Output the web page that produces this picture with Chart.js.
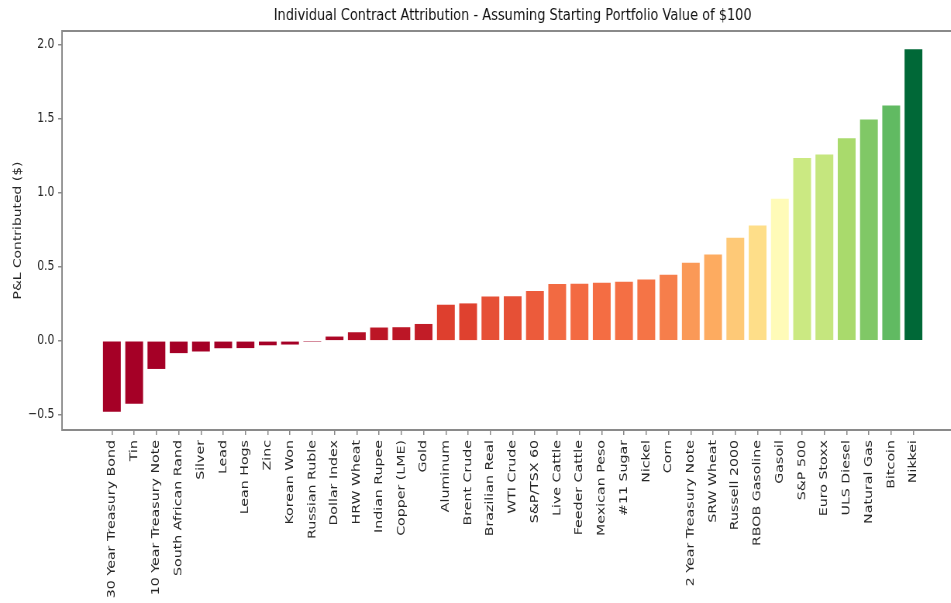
<!DOCTYPE html>
<html>
<head>
<meta charset="utf-8">
<title>Individual Contract Attribution</title>
<script src="https://cdn.jsdelivr.net/npm/chart.js@4.4.1/dist/chart.umd.min.js"></script>
<style>
  html, body { margin: 0; padding: 0; background: #fff; overflow: hidden; width: 951px; height: 603px; }
  /* the figure is drawn wide and squeezed horizontally into the window */
  #wrap { width: 1243px; height: 603px; transform: scaleX(0.775); transform-origin: 0 0; }
  canvas { display: block; }
</style>
</head>
<body>
<div id="wrap"><canvas id="chart" width="1243" height="603"></canvas></div>
<script>
// Contracts, sorted by P&L contribution
const categories = [
  "30 Year Treasury Bond", "Tin", "10 Year Treasury Note", "South African Rand", "Silver",
  "Lead", "Lean Hogs", "Zinc", "Korean Won", "Russian Ruble", "Dollar Index", "HRW Wheat",
  "Indian Rupee", "Copper (LME)", "Gold", "Aluminum", "Brent Crude", "Brazilian Real",
  "WTI Crude", "S&P/TSX 60", "Live Cattle", "Feeder Cattle", "Mexican Peso", "#11 Sugar",
  "Nickel", "Corn", "2 Year Treasury Note", "SRW Wheat", "Russell 2000", "RBOB Gasoline",
  "Gasoil", "S&P 500", "Euro Stoxx", "ULS Diesel", "Natural Gas", "Bitcoin", "Nikkei"
];

// P&L contributed ($) per contract, starting portfolio of $100
const pnl = [
  -0.480, -0.425, -0.190, -0.083, -0.072,
  -0.050, -0.049, -0.030, -0.025, -0.002, 0.029, 0.058,
  0.090, 0.092, 0.114, 0.244, 0.253, 0.300,
  0.302, 0.337, 0.384, 0.385, 0.393, 0.400,
  0.414, 0.447, 0.527, 0.583, 0.696, 0.780,
  0.960, 1.236, 1.259, 1.369, 1.496, 1.591, 1.971
];

const yTickValues = [-0.5, 0.0, 0.5, 1.0, 1.5, 2.0];

const titleText = "Individual Contract Attribution - Assuming Starting Portfolio Value of $100";
const yAxisTitle = "P&L Contributed ($)";

// RdYlGn colour ramp
const rdYlGn = ["#a50026", "#d73027", "#f46d43", "#fdae61", "#fee08b", "#ffffbf",
                "#d9ef8b", "#a6d96a", "#66bd63", "#1a9850", "#006837"];

function hexToRgb(h) {
  return [parseInt(h.slice(1, 3), 16), parseInt(h.slice(3, 5), 16), parseInt(h.slice(5, 7), 16)];
}
function rampColor(t) {
  t = Math.min(Math.max(t, 0), 1);
  const pos = t * (rdYlGn.length - 1);
  const i = Math.min(Math.floor(pos), rdYlGn.length - 2);
  const f = pos - i;
  const a = hexToRgb(rdYlGn[i]), b = hexToRgb(rdYlGn[i + 1]);
  const c = a.map((v, k) => Math.round(v + (b[k] - v) * f));
  return `rgb(${c[0]},${c[1]},${c[2]})`;
}

// colour each bar by its value, 0 .. max (losses clip to the red end)
const vMax = Math.max(...pnl);
const barColors = pnl.map(v => rampColor(v / vMax));

// axis ranges with a 5% margin around the data
const yLo = Math.min(...pnl), yHi = Math.max(...pnl);
const yPad = 0.05 * (yHi - yLo);
const xPad = 0.05 * ((categories.length - 1) + 0.8);

const axisColor = "#8a8a8a";
const textColor = "#262626";
const fontFamily = "'DejaVu Sans', 'Liberation Sans', sans-serif";

// top edge of the plot frame, and the frame running on to the canvas edge
const frameEdges = {
  id: "frameEdges",
  afterDraw(chart) {
    const { ctx, chartArea, width } = chart;
    ctx.save();
    ctx.strokeStyle = axisColor;
    ctx.lineWidth = 2;
    ctx.beginPath();
    ctx.moveTo(chartArea.left, chartArea.top);
    ctx.lineTo(width, chartArea.top);
    ctx.moveTo(chartArea.right - 1, chartArea.bottom);
    ctx.lineTo(width, chartArea.bottom);
    ctx.stroke();
    ctx.restore();
  }
};

new Chart(document.getElementById("chart"), {
  type: "bar",
  data: {
    datasets: [{
      data: pnl.map((v, i) => ({ x: i, y: v })),
      backgroundColor: barColors,
      borderWidth: 0,
      categoryPercentage: 1.0,
      barPercentage: 0.8
    }]
  },
  options: {
    responsive: false,
    animation: false,
    devicePixelRatio: 1,
    layout: { padding: 0 },
    plugins: {
      legend: { display: false },
      tooltip: { enabled: false },
      title: {
        display: true,
        text: titleText,
        fullSize: false,
        color: "#111",
        font: { family: fontFamily, size: 16.7, weight: "normal" },
        padding: { top: 6, bottom: 5 }
      }
    },
    scales: {
      x: {
        type: "linear",
        offset: false,
        min: -0.4 - xPad,
        max: (categories.length - 1) + 0.4 + xPad,
        afterBuildTicks: (scale) => { scale.ticks = categories.map((_, i) => ({ value: i })); },
        afterFit: (scale) => { scale.height = 173; },
        grid: { display: true, offset: false, drawOnChartArea: false, drawTicks: true, tickLength: 5, color: axisColor, lineWidth: 1.5 },
        border: { display: true, color: axisColor, width: 2 },
        ticks: {
          autoSkip: false,
          minRotation: 90,
          maxRotation: 90,
          padding: 5,
          color: textColor,
          font: { family: fontFamily, size: 14.2 },
          callback: (v) => categories[v]
        }
      },
      y: {
        min: yLo - yPad,
        max: yHi + yPad,
        afterBuildTicks: (scale) => { scale.ticks = yTickValues.map(v => ({ value: v })); },
        afterFit: (scale) => { scale.width = 80; },
        grid: { display: true, drawOnChartArea: false, drawTicks: true, tickLength: 5, color: axisColor, lineWidth: 1.5 },
        border: { display: true, color: axisColor, width: 2 },
        ticks: {
          padding: 5,
          color: textColor,
          font: { family: fontFamily, size: 13.9 },
          callback: (v) => v.toFixed(1).replace("-", "\u2212")
        },
        title: {
          display: true,
          text: yAxisTitle,
          color: textColor,
          font: { family: fontFamily, size: 13.9 },
          padding: { top: 15, bottom: 0 }
        }
      }
    }
  },
  plugins: [frameEdges]
});
</script>
</body>
</html>
